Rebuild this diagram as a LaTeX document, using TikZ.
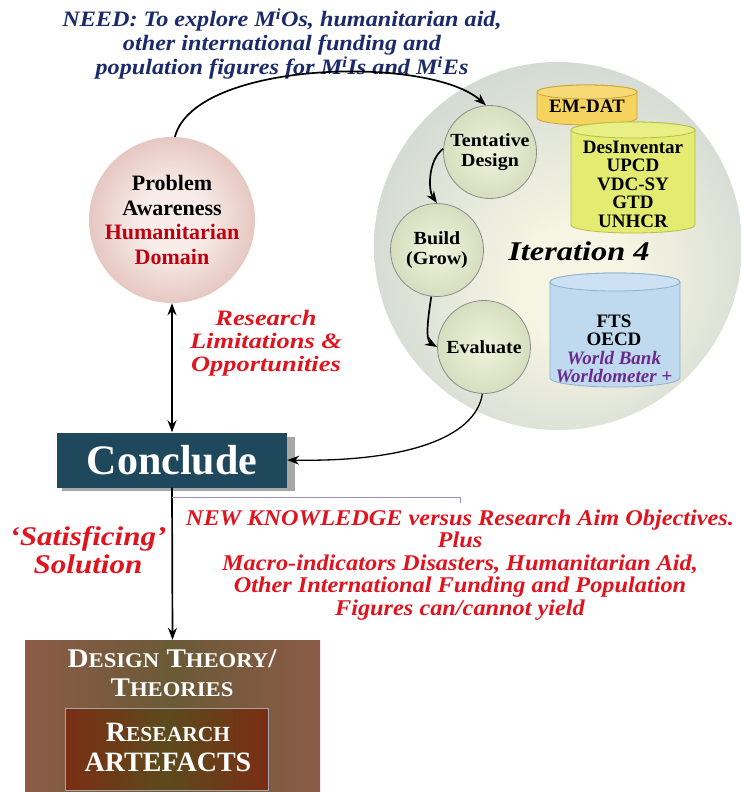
\documentclass[tikz,border=0pt]{standalone}
\usepackage{fontspec}
\setmainfont{Liberation Serif}
\newfontfamily\fsA[FakeStretch=1.1]{Liberation Serif}
\newfontfamily\fsB[FakeStretch=1.15]{Liberation Serif}
\newfontfamily\fsC[FakeStretch=1.2]{Liberation Serif}
\newfontfamily\fsD[FakeStretch=1.08]{Liberation Serif}
\usetikzlibrary{arrows.meta}
\definecolor{navy}{HTML}{1B2A6B}
\definecolor{redtxt}{HTML}{E0141E}
\definecolor{darkred}{HTML}{C00010}
\definecolor{purp}{HTML}{6A2A8C}
\definecolor{itin}{HTML}{F6F4E2}
\definecolor{itout}{HTML}{ADBFC2}
\definecolor{sphin}{HTML}{F0F3DC}
\definecolor{sphmid}{HTML}{D6DEBF}
\definecolor{sphout}{HTML}{96A587}
\definecolor{pain}{HTML}{F8ECE8}
\definecolor{paout}{HTML}{C88B80}
\definecolor{concl}{HTML}{1F485C}
\definecolor{emfill}{HTML}{F6D35E}
\definecolor{emline}{HTML}{C9A23A}
\definecolor{grfill}{HTML}{E3EC70}
\definecolor{grline}{HTML}{B5BE48}
\definecolor{blfill}{HTML}{BFDAEE}
\definecolor{blline}{HTML}{8FAFCB}
\definecolor{thinl}{HTML}{9A8EB0}
\definecolor{boxedge}{HTML}{8C5B48}
\definecolor{boxmid}{HTML}{6A5A36}
\definecolor{inedge}{HTML}{7A2E14}
\definecolor{inmid}{HTML}{5C4A1C}
\pgfdeclareradialshading{itsh}{\pgfpoint{3bp}{-6bp}}{color(0bp)=(itin); color(8bp)=(itin); color(50bp)=(itout)}
\pgfdeclareradialshading{sphsh}{\pgfpoint{0bp}{0bp}}{color(0bp)=(sphin); color(25bp)=(sphmid); color(50bp)=(sphout)}
\pgfdeclareradialshading{pash}{\pgfpoint{0bp}{0bp}}{color(0bp)=(pain); color(10bp)=(pain); color(50bp)=(paout)}
\newcommand{\smcA}[1]{{\fontsize{21}{24}\selectfont #1}}
\newcommand{\smcB}[1]{{\fontsize{21.5}{24}\selectfont #1}}
\begin{document}
\begin{tikzpicture}[x=1pt,y=1pt,
  arr/.style={-{Stealth[length=12pt,width=9pt]}, line width=1.7pt, black},
  sphere/.style={circle, minimum size=93pt, inner sep=0pt, shading=sphsh, draw=black!45, line width=0.8pt, align=center, font=\fsD\fontsize{18.5}{20}\selectfont\bfseries},
  cyltxt/.style={align=center, font=\fontsize{19}{18.5}\selectfont\bfseries}
]
\useasboundingbox (0,0) rectangle (741,-792);

% title
\node[text=navy, align=center, font=\fsA\fontsize{22}{24}\selectfont\bfseries\itshape] (title) at (282,-44)
 {NEED: To explore M\textsuperscript{i}Os, humanitarian aid,\\ other international funding and\\ population figures for M\textsuperscript{i}Is and M\textsuperscript{i}Es};

% iteration circle
\node[circle, minimum size=368pt, inner sep=0pt, shading=itsh] (iter) at (558,-246) {};

% cylinders
\path[fill=emfill, draw=emline, line width=0.8pt] (537,-92) -- (537,-118) arc[start angle=180, end angle=360, x radius=50, y radius=7] -- (637,-92) arc[start angle=0, end angle=180, x radius=50, y radius=7] -- cycle;
\path[fill=emfill!85!white, draw=emline, line width=0.8pt] (587,-92) ellipse[x radius=50, y radius=7];
\node[cyltxt] (emdat) at (587,-106) {EM-DAT};

\path[fill=grfill, draw=grline, line width=0.8pt] (571,-130) -- (571,-225) arc[start angle=180, end angle=360, x radius=62, y radius=8] -- (695,-130) arc[start angle=0, end angle=180, x radius=62, y radius=8] -- cycle;
\path[fill=grfill!85!white, draw=grline, line width=0.8pt] (633,-130) ellipse[x radius=62, y radius=8];
\node[cyltxt] (sources) at (633,-184) {DesInventar\\UPCD\\VDC-SY\\GTD\\UNHCR};

\path[fill=blfill, draw=blline, line width=0.8pt] (550,-282) -- (550,-378) arc[start angle=180, end angle=360, x radius=65, y radius=9] -- (680,-282) arc[start angle=0, end angle=180, x radius=65, y radius=9] -- cycle;
\path[fill=blfill!80!white, draw=blline, line width=0.8pt] (615,-282) ellipse[x radius=65, y radius=9];
\node[cyltxt] (funds) at (614,-349) {FTS\\OECD\\\textcolor{purp}{\itshape World Bank}\\\textcolor{purp}{\itshape Worldometer +}};

\node[font=\fsC\fontsize{27}{30}\selectfont\bfseries\itshape] (itlabel) at (579,-251) {Iteration 4};

% spheres
\node[sphere] (tent) at (490,-152) {Tentative\\Design};
\node[sphere] (build) at (437,-250) {Build\\(Grow)};
\node[sphere] (eval) at (484,-347) {Evaluate};

% problem awareness
\node[circle, minimum size=166pt, inner sep=0pt, shading=pash, align=center,
  font=\fontsize{22}{24.5}\selectfont\bfseries] (pa) at (172,-220)
  {Problem\\Awareness\\\textcolor{darkred}{Humanitarian}\\\textcolor{darkred}{Domain}};

% conclude
\fill[black!35] (62,-437) rectangle (295,-491);
\node[rectangle, fill=concl, minimum width=230pt, minimum height=55pt, inner sep=0pt,
  text=white, font=\fontsize{42}{44}\selectfont\bfseries] (conc) at (172,-460) {Conclude};

% red labels
\node[text=redtxt, align=center, font=\fsC\fontsize{22}{23}\selectfont\bfseries\itshape] (limits) at (266,-343)
  {Research\\Limitations \&\\Opportunities};
\node[text=redtxt, align=center, font=\fsB\fontsize{27}{28}\selectfont\bfseries\itshape] (satis) at (88,-550)
  {‘Satisficing’\\Solution};
\node[text=redtxt, align=center, font=\fsD\fontsize{22.5}{22.6}\selectfont\bfseries\itshape] (newk) at (460,-565)
  {NEW KNOWLEDGE versus Research Aim Objectives.\\Plus\\Macro-indicators Disasters, Humanitarian Aid,\\Other International Funding and Population\\Figures can/cannot yield};

% design theory box
\node[rectangle, minimum width=295pt, minimum height=160pt, inner sep=0pt,
  left color=boxedge, right color=boxedge, middle color=boxmid] (dtbox) at (172.5,-720) {};
\node[rectangle, minimum width=203pt, minimum height=82pt, inner sep=0pt, draw=black!35, line width=0.6pt,
  left color=inedge, right color=inedge, middle color=inmid] (rabox) at (166.5,-749) {};
\node[text=white, align=center, font=\fsD\fontsize{27}{29}\selectfont\bfseries] (dtlabel) at (172,-673)
  {D\smcA{ESIGN} T\smcA{HEORY}/\\T\smcA{HEORIES}};
\node[text=white, align=center, font=\fontsize{28}{30}\selectfont\bfseries] (ralabel) at (168,-747)
  {R\smcB{ESEARCH}\\ARTEFACTS};

% connectors
\draw[arr] (pa.88) .. controls (195,-60) and (430,-55) .. (tent.95);
\draw[arr] (tent.176) .. controls (428,-160) and (428,-190) .. (build.north);
\draw[arr] (build.263) .. controls (428,-318) and (425,-340) .. (eval.180);
\draw[arr, line width=1.3pt] (eval.268) .. controls (475,-440) and (400,-462) .. (conc.east);
\draw[{Stealth[length=12pt,width=9pt]}-{Stealth[length=12pt,width=9pt]}, line width=1.7pt] (pa.south) -- (conc.north);
\draw[arr] (conc.south) -- (dtbox.north);
\coordinate (tl1) at (172,-497);
\coordinate (tl2) at (460,-497);
\coordinate (tl3) at (460,-503);
\draw[thinl, line width=0.9pt] (tl1) -- (tl2) -- (tl3);
\end{tikzpicture}
\end{document}
